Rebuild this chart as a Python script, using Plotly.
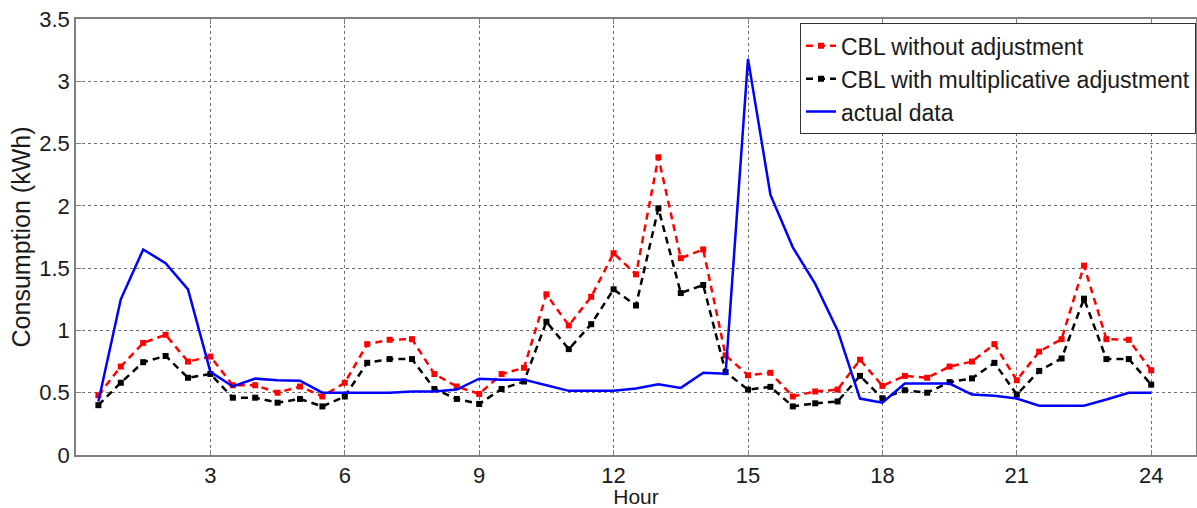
import plotly.graph_objects as go

hours = [0.5, 1, 1.5, 2, 2.5, 3, 3.5, 4, 4.5, 5, 5.5, 6,
         6.5, 7, 7.5, 8, 8.5, 9, 9.5, 10, 10.5, 11, 11.5, 12,
         12.5, 13, 13.5, 14, 14.5, 15, 15.5, 16, 16.5, 17, 17.5, 18,
         18.5, 19, 19.5, 20, 20.5, 21, 21.5, 22, 22.5, 23, 23.5, 24]

cbl_without = [0.48, 0.71, 0.90, 0.965, 0.75, 0.79, 0.56, 0.56, 0.50, 0.55, 0.47, 0.58,
               0.89, 0.925, 0.93, 0.65, 0.55, 0.49, 0.65, 0.70, 1.29, 1.04, 1.27, 1.62,
               1.45, 2.39, 1.58, 1.65, 0.80, 0.64, 0.66, 0.47, 0.51, 0.525, 0.765, 0.555,
               0.635, 0.62, 0.71, 0.75, 0.89, 0.60, 0.83, 0.93, 1.52, 0.93, 0.925, 0.68]

cbl_multiplicative = [0.40, 0.58, 0.745, 0.795, 0.62, 0.65, 0.46, 0.46, 0.42, 0.45, 0.39, 0.47,
                      0.74, 0.77, 0.77, 0.53, 0.45, 0.41, 0.53, 0.59, 1.07, 0.85, 1.05, 1.33,
                      1.20, 1.98, 1.30, 1.365, 0.665, 0.525, 0.547, 0.39, 0.415, 0.43, 0.635, 0.455,
                      0.52, 0.50, 0.585, 0.615, 0.74, 0.485, 0.675, 0.775, 1.255, 0.77, 0.77, 0.565]

actual = [0.43, 1.25, 1.65, 1.54, 1.33, 0.667, 0.55, 0.613, 0.60, 0.597, 0.50, 0.50,
          0.50, 0.50, 0.51, 0.51, 0.525, 0.613, 0.605, 0.605, 0.56, 0.515, 0.515, 0.515,
          0.533, 0.568, 0.539, 0.66, 0.652, 3.18, 2.09, 1.667, 1.373, 1.0, 0.453, 0.42,
          0.573, 0.573, 0.573, 0.485, 0.475, 0.453, 0.395, 0.395, 0.395, 0.445, 0.50, 0.50]

x_ticks = [3, 6, 9, 12, 15, 18, 21, 24]
y_ticks = [0, 0.5, 1, 1.5, 2, 2.5, 3, 3.5]
y_tick_labels = ["0", "0.5", "1", "1.5", "2", "2.5", "3", "3.5"]

FONT = "Liberation Sans, Arial, sans-serif"
TXT = "#1a1a1a"

fig = go.Figure()
fig.add_trace(go.Scatter(
    x=hours, y=cbl_without, mode="lines+markers", name="CBL without adjustment",
    line=dict(color="#ff0000", width=2.5, dash="7px,5px"),
    marker=dict(symbol="square", size=6, color="#ff0000")))
fig.add_trace(go.Scatter(
    x=hours, y=cbl_multiplicative, mode="lines+markers", name="CBL with multiplicative adjustment",
    line=dict(color="#000000", width=2.5, dash="7px,5px"),
    marker=dict(symbol="square", size=6, color="#000000")))
fig.add_trace(go.Scatter(
    x=hours, y=actual, mode="lines", name="actual data",
    line=dict(color="#0000ff", width=2.5)))

axis_common = dict(
    showline=True, linecolor="#808080", linewidth=1.5, mirror="ticks",
    ticks="inside", ticklen=5, tickcolor="#808080", tickwidth=1,
    showgrid=True, gridcolor="#6e6e6e", griddash="dot", gridwidth=1,
    zeroline=False,
    tickfont=dict(family=FONT, size=22, color=TXT),
)

fig.update_xaxes(range=[0, 25], tickvals=x_ticks, **axis_common,
                 title=dict(text="Hour", standoff=3,
                            font=dict(family=FONT, size=21, color=TXT)))
fig.update_yaxes(range=[0, 3.5], tickvals=y_ticks, ticktext=y_tick_labels, **axis_common,
                 title=dict(text="Consumption (kWh)", standoff=2,
                            font=dict(family=FONT, size=25, color=TXT)))

fig.update_layout(
    width=1197, height=508,
    margin=dict(l=76, r=1, t=19, b=53, autoexpand=False),
    paper_bgcolor="white", plot_bgcolor="white",
    legend=dict(x=1, y=0.99, xanchor="right", yanchor="top",
                bgcolor="white", bordercolor="#333333", borderwidth=1,
                font=dict(family=FONT, size=23, color=TXT),
                tracegroupgap=0, itemwidth=30),
    showlegend=True,
)

fig.write_html("out.html")
